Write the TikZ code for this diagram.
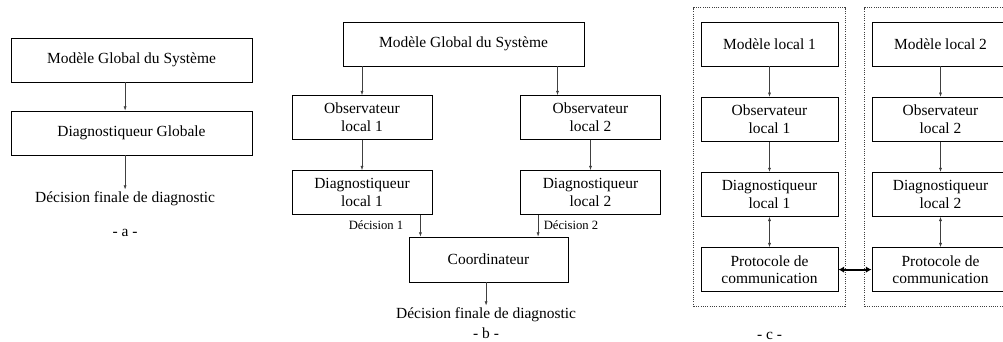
\documentclass[tikz,border=0pt]{standalone}
\usepackage{fontspec}
\setmainfont{Liberation Serif}
\usetikzlibrary{positioning,arrows.meta,fit}

\begin{document}
\begin{tikzpicture}[
    box/.style={draw, line width=0.6pt, inner sep=0pt, minimum height=1.1cm, align=center, font=\fontsize{11}{12.5}\selectfont},
    txt/.style={inner sep=1.5pt, font=\fontsize{11}{12.5}\selectfont},
    small/.style={inner sep=0pt, font=\fontsize{9}{10}\selectfont},
    fl/.style={-{Latex[length=3pt,width=2.2pt]}, line width=0.4pt, draw=black!75},
    site/.style={draw=black!75, densely dotted, line width=0.6pt, inner xsep=0.17cm, inner ysep=0.35cm},
  ]
  \useasboundingbox (0,0) rectangle (25.075,8.55);
  \clip (0,0) rectangle (25.075,8.55);

  % - a -
  \node[box, minimum width=6.025cm] (ModA) at (3.2875,7.05) {Mod\`ele Global du Syst\`eme};
  \node[box, minimum width=6.025cm, on grid, below=1.825cm of ModA] (DiagA) {Diagnostiqueur Globale};
  \node[txt, on grid, below left=1.65cm and 0.16cm of DiagA] (DecA) {D\'ecision finale de diagnostic};
  \node[txt, on grid, below=0.85cm of DecA] (LabA) {- a -};
  \draw[fl] (ModA.south -| DecA) -- (DiagA.north -| DecA);
  \draw[fl] (DiagA.south -| DecA) -- (DecA.north);

  % - b -
  \node[box, minimum width=6.025cm] (ModB) at (11.5875,7.45) {Mod\`ele Global du Syst\`eme};
  \node[box, minimum width=3.5cm, on grid, below left=1.8375cm and 2.5375cm of ModB] (ObsB1) {Observateur\\local 1};
  \node[box, minimum width=3.5cm, on grid, below right=1.8375cm and 3.175cm of ModB] (ObsB2) {Observateur\\local 2};
  \node[box, minimum width=3.5cm, on grid, below=1.875cm of ObsB1] (DiagB1) {Diagnostiqueur\\local 1};
  \node[box, minimum width=3.5cm, on grid, below=1.875cm of ObsB2] (DiagB2) {Diagnostiqueur\\local 2};
  \node[box, minimum width=3.975cm, minimum height=1.125cm, on grid, below right=1.675cm and 3.1625cm of DiagB1] (Coord) {Coordinateur};
  \node[small, on grid, below right=0.8125cm and 0.35cm of DiagB1] (Dec1) {D\'ecision 1};
  \node[small, on grid, below left=0.8125cm and 0.4875cm of DiagB2] (Dec2) {D\'ecision 2};
  \node[txt, on grid, below left=1.3875cm and 0.06cm of Coord] (DecB) {D\'ecision finale de diagnostic};
  \node[txt, on grid, below=0.45cm of DecB] (LabB) {- b -};
  \draw[fl] (ModB.south -| ObsB1) -- (ObsB1.north);
  \draw[fl] ([xshift=-0.825cm]ModB.south -| ObsB2) -- ([xshift=-0.825cm]ObsB2.north);
  \draw[fl] (ObsB1) -- (DiagB1);
  \draw[fl] (ObsB2) -- (DiagB2);
  \draw[fl] ([xshift=-0.3cm]DiagB1.south east) -- ([xshift=-0.3cm]DiagB1.south east |- Coord.north);
  \draw[fl] ([xshift=0.45cm]DiagB2.south west) -- ([xshift=0.45cm]DiagB2.south west |- Coord.north);
  \draw[fl] (Coord.south -| DecB) -- (DecB.north);

  % - c -
  \node[box, minimum width=3.425cm] (ML1) at (19.2375,7.45) {Mod\`ele local 1};
  \node[box, minimum width=3.425cm, on grid, below=1.88cm of ML1] (ObsC1) {Observateur\\local 1};
  \node[box, minimum width=3.425cm, on grid, below=1.88cm of ObsC1] (DiagC1) {Diagnostiqueur\\local 1};
  \node[box, minimum width=3.425cm, on grid, below=1.88cm of DiagC1] (Prot1) {Protocole de\\communication};
  \node[box, minimum width=3.425cm, on grid, right=4.275cm of ML1] (ML2) {Mod\`ele local 2};
  \node[box, minimum width=3.425cm, on grid, right=4.275cm of ObsC1] (ObsC2) {Observateur\\local 2};
  \node[box, minimum width=3.425cm, on grid, right=4.275cm of DiagC1] (DiagC2) {Diagnostiqueur\\local 2};
  \node[box, minimum width=3.425cm, on grid, right=4.275cm of Prot1] (Prot2) {Protocole de\\communication};
  \node[site, fit=(ML1)(Prot1)] (Site1) {};
  \node[site, fit=(ML2)(Prot2)] (Site2) {};
  \node[txt, on grid, below=1.65cm of Prot1] (LabC) {- c -};
  \draw[fl] (ML1) -- (ObsC1);
  \draw[fl] (ObsC1) -- (DiagC1);
  \draw[fl, {Latex[length=3pt,width=2.2pt]}-{Latex[length=3pt,width=2.2pt]}] (DiagC1) -- (Prot1);
  \draw[fl] (ML2) -- (ObsC2);
  \draw[fl] (ObsC2) -- (DiagC2);
  \draw[fl, {Latex[length=3pt,width=2.2pt]}-{Latex[length=3pt,width=2.2pt]}] (DiagC2) -- (Prot2);
  \draw[{Latex[length=4pt,width=4.5pt]}-{Latex[length=4pt,width=4.5pt]}, line width=1.4pt] (Prot1) -- (Prot2);
\end{tikzpicture}
\end{document}
